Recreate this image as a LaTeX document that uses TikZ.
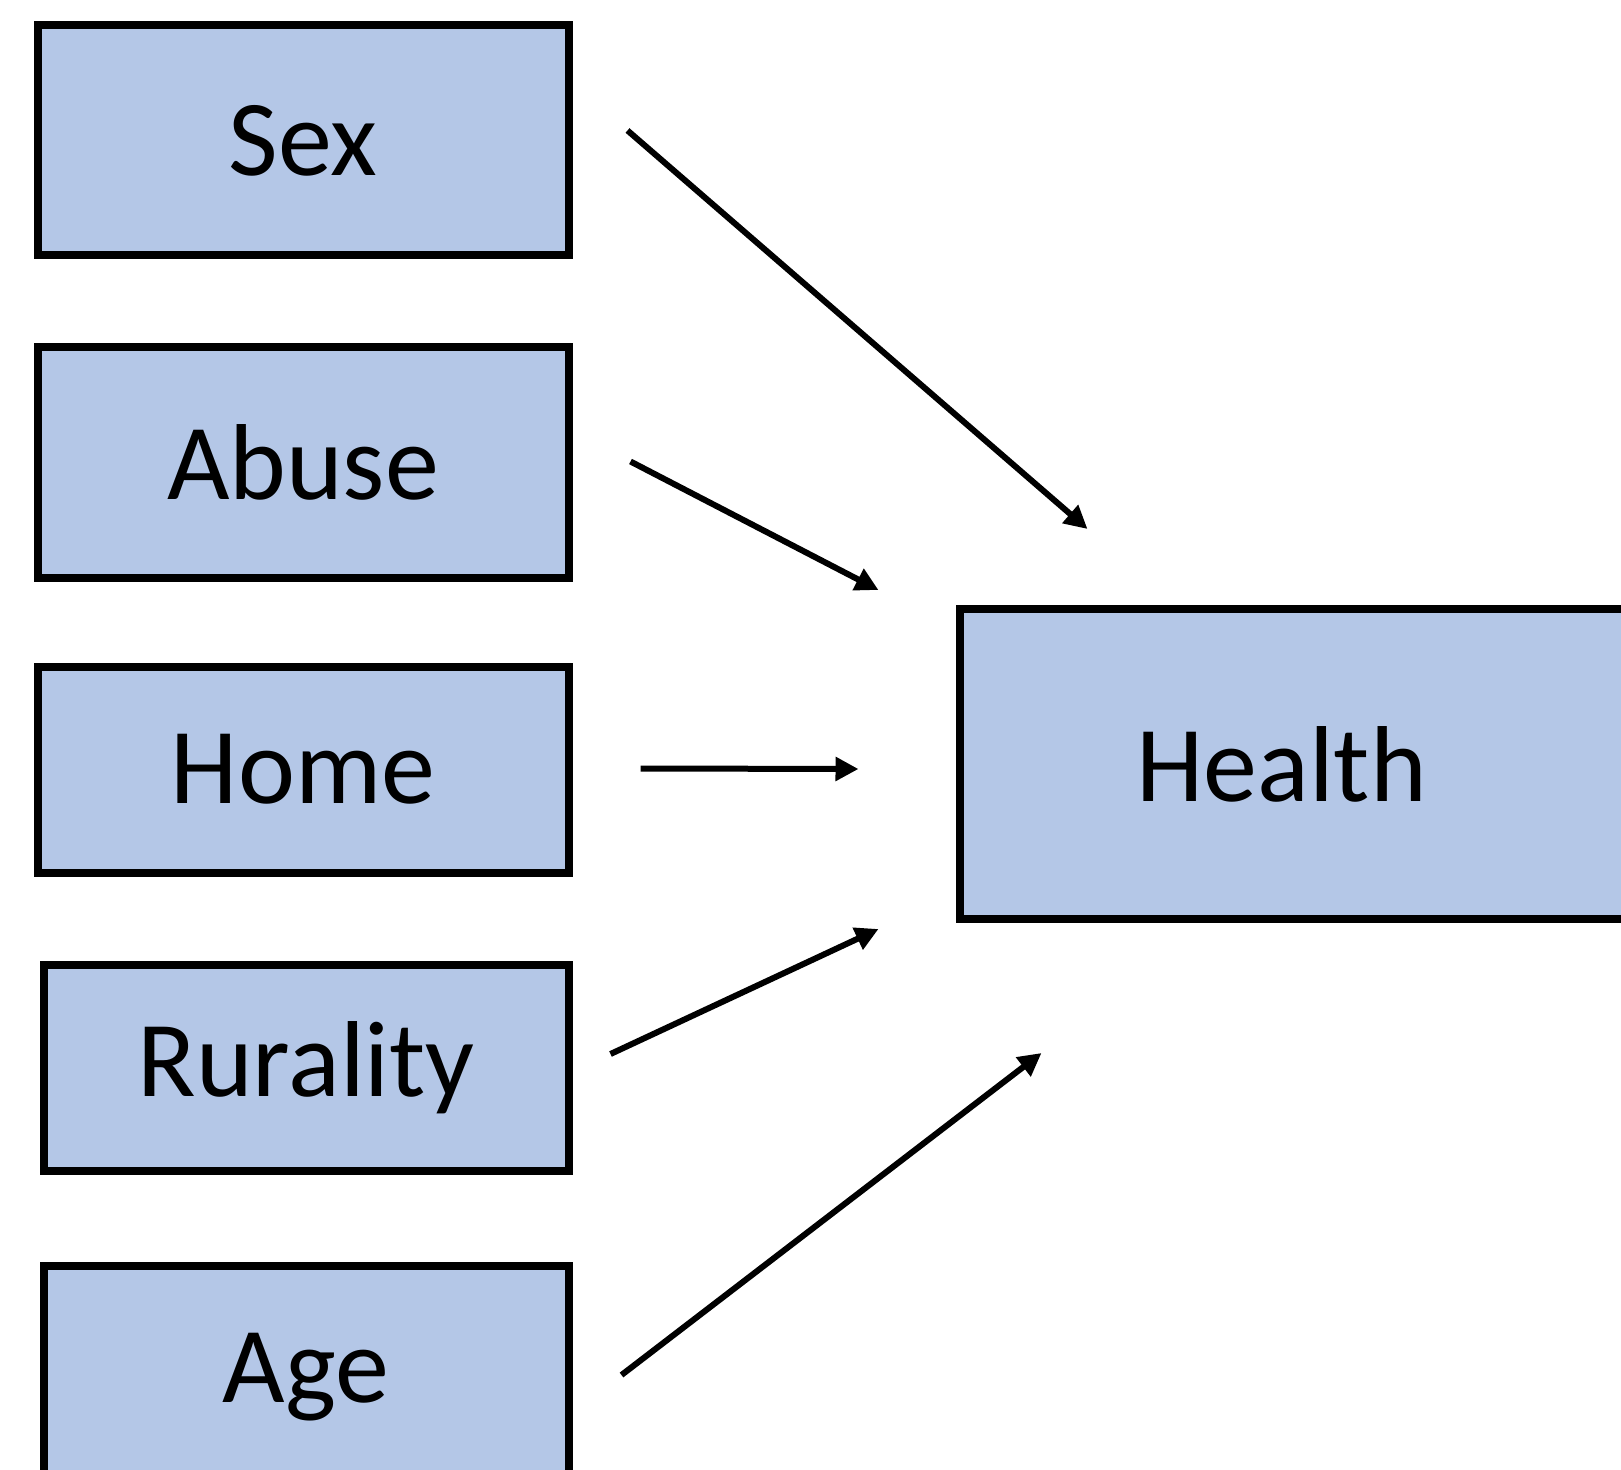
\documentclass[tikz,border=0pt]{standalone}
\usepackage{fontspec}
\setmainfont{Carlito}
\usetikzlibrary{arrows.meta,positioning}
\definecolor{boxblue}{RGB}{180,199,231}

\begin{document}
\begin{tikzpicture}[
    x=0.5pt, y=-0.5pt,
    box/.style={draw, fill=boxblue, line width=4pt, inner sep=0pt, font=\fontsize{54pt}{58pt}\selectfont},
    factor/.style={box, minimum width=265.5pt, minimum height=115pt},
    outcome/.style={box, minimum width=370pt, minimum height=155pt},
    arrow/.style={-{Triangle[length=11.5pt,width=11.5pt]}, line width=3pt}
  ]
    \clip (0,0) rectangle (1621,1470);
    \node[factor] (sex) at (303,140.5) {Sex};
    \node[factor] (abuse) at (303,462.5) {Abuse};
    \node[factor, minimum height=103pt] (home) at (303,769.5) {Home};
    \node[factor, minimum width=262.5pt, minimum height=103pt] (rurality) at (306,1068) {Rurality};
    \node[factor, minimum width=262.5pt, minimum height=111.5pt] (age) at (306,1377) {Age};
    \node[outcome] (health) at (1329.5,764) {Health\hspace*{48pt}};
    \draw[arrow] ([shift={(55,-10)}]sex.east) -- ([shift={(132,-235)}]health.west);
    \draw[arrow] ([shift={(58,-1)}]abuse.east) -- ([shift={(-77,-174)}]health.west);
    \draw[arrow] ([shift={(68,-1)}]home.east) -- ([shift={(-97,5)}]health.west);
    \draw[arrow] ([shift={(38,-14)}]rurality.east) -- ([shift={(-77,165)}]health.west);
    \draw[arrow] ([shift={(49,-2)}]age.east) -- ([shift={(86,289)}]health.west);
  \end{tikzpicture}
\end{document}
